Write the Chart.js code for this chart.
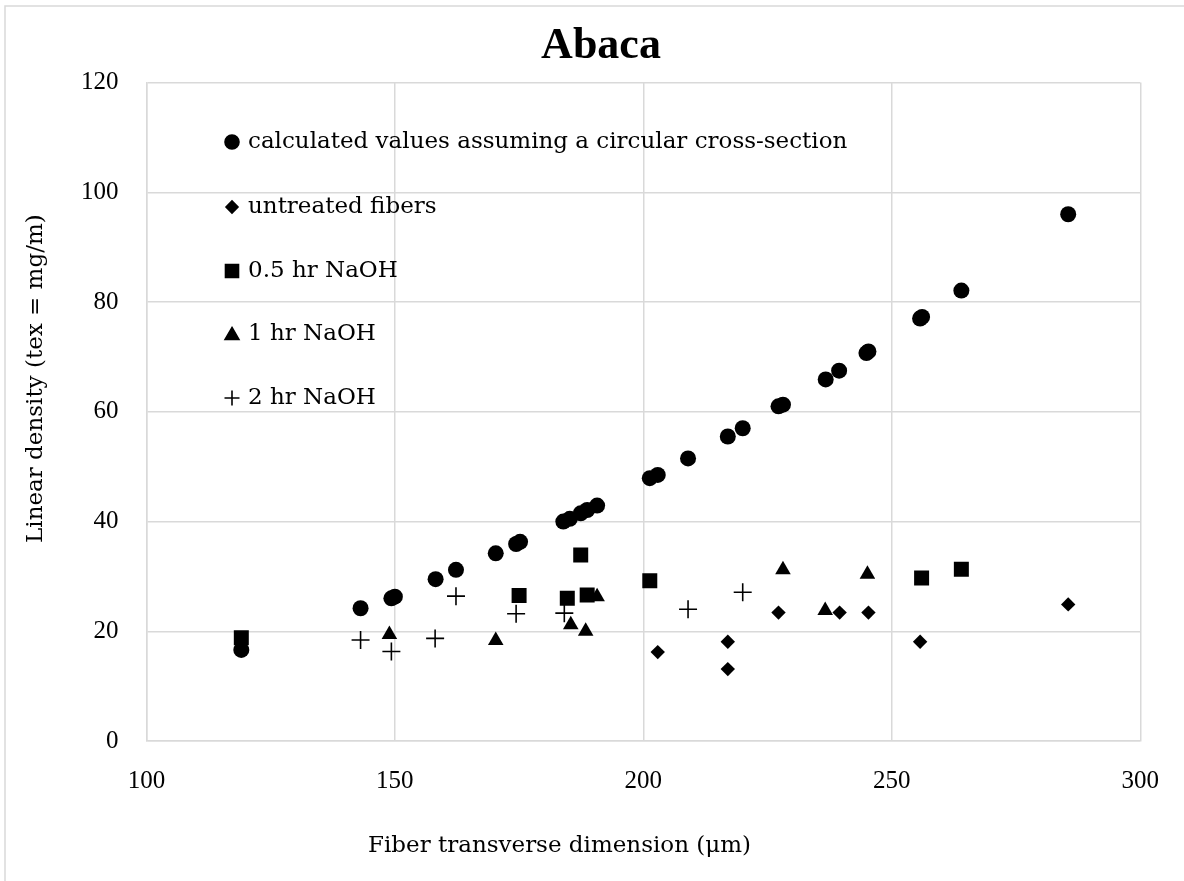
<!DOCTYPE html>
<html>
<head>
<meta charset="utf-8">
<script src="https://cdn.jsdelivr.net/npm/chart.js@4.4.1/dist/chart.umd.min.js"></script>
<style>
  html, body { margin: 0; padding: 0; background: #fff; }
  #wrap { position: absolute; left: 0; top: 0; width: 1184px; height: 881px; }
</style>
</head>
<body>
<div id="wrap"><canvas id="c" width="1184" height="881"></canvas></div>
<script>
// ---- data ----
const chartTitle = "Abaca";
const xAxisTitle = "Fiber transverse dimension (\u03bcm)";
const yAxisTitle = "Linear density (tex = mg/m)";
const xTicks = [100, 150, 200, 250, 300];
const yTicks = [0, 20, 40, 60, 80, 100, 120];

const seriesNames = [
  "calculated values assuming a circular cross-section",
  "untreated fibers",
  "0.5 hr NaOH",
  "1 hr NaOH",
  "2 hr NaOH"
];

const calcX = [119.1, 143.1, 149.3, 150.0, 158.2, 162.3, 170.3, 174.4, 175.2, 183.9, 185.2, 187.4, 188.7, 190.7, 201.3, 202.9, 209.0, 217.0, 220.0, 227.2, 228.1, 236.7, 239.4, 244.9, 245.3, 255.7, 256.1, 264.0, 285.5];
const calcY = [16.6, 24.2, 26.0, 26.3, 29.5, 31.2, 34.2, 35.9, 36.3, 40.0, 40.5, 41.5, 42.1, 42.9, 47.9, 48.5, 51.5, 55.5, 57.0, 61.0, 61.3, 65.9, 67.5, 70.7, 71.0, 77.0, 77.3, 82.1, 96.0];

const untreatedX = [202.9, 217.0, 217.0, 227.2, 239.5, 245.3, 255.7, 285.5];
const untreatedY = [16.2, 18.1, 13.1, 23.4, 23.4, 23.4, 18.1, 24.9];

const naoh05X = [119.1, 175.0, 184.7, 187.4, 188.7, 201.3, 256.0, 264.0];
const naoh05Y = [18.8, 26.5, 26.0, 33.9, 26.6, 29.2, 29.7, 31.3];

const naoh1X = [148.9, 170.3, 185.4, 188.4, 190.7, 228.1, 236.6, 245.1];
const naoh1Y = [19.4, 18.3, 21.2, 20.0, 26.3, 31.2, 23.8, 30.4];

const naoh2X = [143.1, 149.3, 158.1, 162.3, 174.4, 184.1, 209.0, 220.0];
const naoh2Y = [18.4, 16.3, 18.7, 26.4, 23.2, 23.3, 24.0, 27.1];

// ---- build ----
const TICKFONT = "'Liberation Serif', 'Times New Roman', serif";
const TEXTFONT = "'DejaVu Serif', serif";
const pts = (xs, ys) => xs.map((x, i) => ({x: x, y: ys[i]}));

const styles = [
  {pointStyle: 'circle',   radius: 8,    legendR: 7},
  {pointStyle: 'rectRot',  radius: 7.2,  legendR: 6},
  {pointStyle: 'rect',     radius: 10.6, legendR: 9.2},
  {pointStyle: 'triangle', radius: 9,    legendR: 8},
  {pointStyle: 'cross',    radius: 9,    legendR: 7.5}
];
const rawSeries = [[calcX, calcY], [untreatedX, untreatedY], [naoh05X, naoh05Y], [naoh1X, naoh1Y], [naoh2X, naoh2Y]];

const datasets = rawSeries.map((s, i) => ({
  label: seriesNames[i],
  data: pts(s[0], s[1]),
  pointStyle: styles[i].pointStyle,
  pointRadius: styles[i].radius,
  pointHoverRadius: styles[i].radius,
  backgroundColor: '#000',
  borderColor: '#000',
  borderWidth: styles[i].pointStyle === 'cross' ? 1.6 : 0,
  showLine: false
}));

const frameAndText = {
  id: 'frameAndText',
  beforeDraw(chart) {
    const ctx = chart.ctx;
    ctx.save();
    ctx.fillStyle = '#fff';
    ctx.fillRect(0, 0, chart.width, chart.height);
    ctx.strokeStyle = '#d9d9d9';
    ctx.lineWidth = 1.5;
    ctx.strokeRect(5, 6, 1250, 950);
    ctx.restore();
  },
  afterDraw(chart) {
    const ctx = chart.ctx;
    ctx.save();
    ctx.fillStyle = '#000';
    // chart title
    ctx.font = "bold 44px " + TICKFONT;
    ctx.textAlign = 'center';
    ctx.textBaseline = 'alphabetic';
    ctx.fillText(chartTitle, 601, 58);
    // axis titles
    ctx.font = "23px " + TEXTFONT;
    ctx.textBaseline = 'middle';
    ctx.textAlign = 'left';
    ctx.fillText(xAxisTitle, 368, 846);
    ctx.save();
    ctx.translate(36, 543);
    ctx.rotate(-Math.PI / 2);
    ctx.fillText(yAxisTitle, 0, 0);
    ctx.restore();
    // legend inside plot area
    const rowY = [142, 207, 271, 334, 398];
    chart.data.datasets.forEach((ds, i) => {
      const st = styles[i];
      ctx.fillStyle = '#000';
      ctx.strokeStyle = '#000';
      ctx.lineWidth = 1.6;
      Chart.helpers.drawPoint(ctx, {pointStyle: st.pointStyle, radius: st.legendR, rotation: 0, borderWidth: 1.6}, 232, rowY[i] + (st.pointStyle === 'triangle' ? 1.5 : 0));
      if (st.pointStyle !== 'cross') ctx.fill();
      ctx.fillStyle = '#000';
      ctx.font = "23px " + TEXTFONT;
      ctx.textAlign = 'left';
      ctx.textBaseline = 'middle';
      ctx.fillText(ds.label, 248, rowY[i]);
    });
    ctx.restore();
  }
};

new Chart(document.getElementById('c'), {
  type: 'scatter',
  data: { datasets: datasets },
  plugins: [frameAndText],
  options: {
    responsive: false,
    animation: false,
    layout: { padding: { left: 0, right: 41.7, top: 82.6, bottom: 0 } },
    plugins: {
      legend: { display: false },
      tooltip: { enabled: false },
      title: { display: false }
    },
    scales: {
      x: {
        type: 'linear',
        min: 100, max: 300,
        afterBuildTicks(scale) { scale.ticks = xTicks.map(v => ({value: v})); },
        afterFit(scale) { scale.height = 140; },
        grid: { color: '#d9d9d9', lineWidth: 1.5, drawTicks: false },
        border: { color: '#d9d9d9', width: 1.5 },
        ticks: { color: '#000', padding: 25, font: { family: TICKFONT, size: 25 } }
      },
      y: {
        type: 'linear',
        min: 0, max: 120,
        afterBuildTicks(scale) { scale.ticks = yTicks.map(v => ({value: v})); },
        afterFit(scale) { scale.width = 146.4; },
        grid: { color: '#d9d9d9', lineWidth: 1.5, drawTicks: false },
        border: { color: '#d9d9d9', width: 1.5 },
        ticks: { color: '#000', padding: 28, font: { family: TICKFONT, size: 25 } }
      }
    }
  }
});
</script>
</body>
</html>
